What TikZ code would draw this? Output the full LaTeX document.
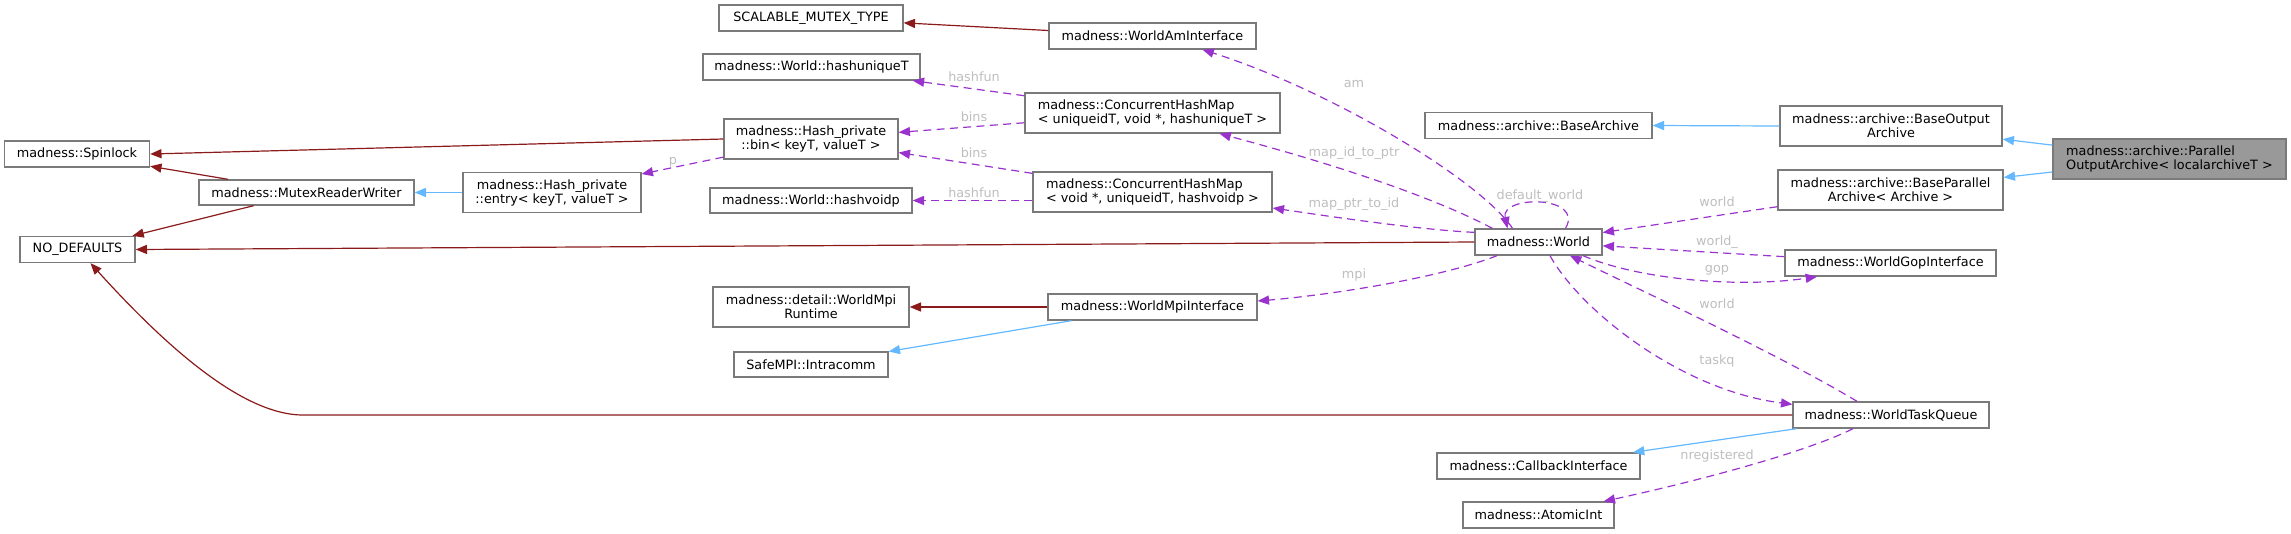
\documentclass[tikz,border=0pt]{standalone}
\usepackage{fontspec}
\setmainfont{DejaVu Sans}
\usetikzlibrary{arrows.meta,calc}
\definecolor{inhblue}{HTML}{63B8FF}
\definecolor{privred}{HTML}{8B1A1A}
\definecolor{usepurple}{HTML}{9A32CD}
\definecolor{boxgray}{HTML}{7A7A7A}
\definecolor{lblgray}{HTML}{BEBEBE}
\definecolor{focusgray}{HTML}{999999}
\begin{document}
\begin{tikzpicture}[x=0.75pt,y=-0.75pt,
  font=\fontsize{9.6pt}{10.5pt}\selectfont,
  box/.style={draw=boxgray, line width=1pt, fill=white, inner sep=2pt, align=center},
  sz/.style 2 args={minimum width=#1*0.75pt, minimum height=#2*0.75pt},
  tipstyle/.style={-{Triangle[length=8.5pt,width=6.8pt]}},
  redl/.style={draw=privred, line width=0.9pt, tipstyle},
  bluel/.style={draw=inhblue, line width=0.9pt, tipstyle},
  usel/.style={draw=usepurple, line width=0.9pt, dash pattern=on 6pt off 4pt, tipstyle},
  lbl/.style={text=lblgray, inner sep=0pt}
]
\useasboundingbox (0,0) rectangle (2291,533);

% nodes
\node[box, sz={145}{26}] (spin) at (77,154) {madness::Spinlock};
\node[box, sz={215}{25}] (mrw) at (306.5,192.5) {madness::MutexReaderWriter};
\node[box, sz={178}{40}] (entry) at (552,192.5) {madness::Hash\_private\\::entry< keyT, valueT >};
\node[box, sz={115}{26}] (nodef) at (77.5,249.5) {NO\_DEFAULTS};
\node[box, sz={184}{26}] (smt) at (811,18) {SCALABLE\_MUTEX\_TYPE};
\node[box, sz={207}{26}] (wai) at (1152.5,36) {madness::WorldAmInterface};
\node[box, sz={217}{26}] (hut) at (811.5,67) {madness::World::hashuniqueT};
\node[box, sz={255}{40}, align=left] (chm1) at (1152.5,113) {madness::ConcurrentHashMap\\< uniqueidT, void *, hashuniqueT >};
\node[box, sz={174}{40}] (bin) at (811,139) {madness::Hash\_private\\::bin< keyT, valueT >};
\node[box, sz={202}{25}] (hvp) at (811,200.5) {madness::World::hashvoidp};
\node[box, sz={239}{40}, align=left] (chm2) at (1152.5,192) {madness::ConcurrentHashMap\\< void *, uniqueidT, hashvoidp >};
\node[box, sz={127}{26}] (world) at (1538.5,242) {madness::World};
\node[box, sz={227}{26}] (ba) at (1538.5,125.5) {madness::archive::BaseArchive};
\node[box, sz={222}{40}] (boa) at (1891,126) {madness::archive::BaseOutput\\Archive};
\node[box, sz={233}{40}, fill=focusgray, align=left] (poa) at (2169.5,159) {madness::archive::Parallel\\OutputArchive< localarchiveT >};
\node[box, sz={225}{40}] (bpa) at (1890.5,190) {madness::archive::BaseParallel\\Archive< Archive >};
\node[box, sz={211}{26}] (wgi) at (1890.5,263) {madness::WorldGopInterface};
\node[box, sz={196}{40}] (wmr) at (811,307) {madness::detail::WorldMpi\\Runtime};
\node[box, sz={209}{26}] (wmi) at (1152.5,307) {madness::WorldMpiInterface};
\node[box, sz={154}{25}] (sic) at (811,364.5) {SafeMPI::Intracomm};
\node[box, sz={196}{26}] (wtq) at (1891,415) {madness::WorldTaskQueue};
\node[box, sz={203}{26}] (cbi) at (1538.5,466) {madness::CallbackInterface};
\node[box, sz={151}{26}] (ai) at (1538.5,515) {madness::AtomicInt};

% edges
\draw[redl] (bin.west) -- (spin.east);
\draw[redl] (mrw) -- (spin);
\draw[redl] (mrw) -- (nodef);
\draw[bluel] (entry.west) -- (mrw.east);
\draw[redl] (world.west) -- (nodef.east);
\coordinate (bend) at (303,415);
\draw[redl] (wtq.west) -- (bend) .. controls (240,415) and (160,340) .. ($(nodef.south)+(13,0)$);
\draw[redl] (wai) -- (smt);
\draw[usel] (chm1) -- (hut);
\draw[usel] (chm1) -- (bin);
\draw[usel] (chm2) -- (bin);
\draw[usel] (chm2.west |- hvp.east) -- (hvp.east);
\draw[usel] (bin) -- (entry);
\draw[usel] ($(world.north)+(-26,0)$) .. controls (1480,180) and (1330,90) .. ($(wai.south)+(50,0)$);
\draw[usel] ($(world.north west)+(18,0)$) .. controls (1420,190) and (1300,155) .. ($(chm1.south)+(67,0)$);
\draw[usel] ($(world.north west)+(0,4)$) .. controls (1420,230) and (1320,215) .. ($(chm2.east)+(0,16)$);
\draw[usel] ($(world.north)+(27,0)$) .. controls (1585,195) and (1500,195) .. ($(world.north)+(-31,0)$);
\draw[usel] (bpa) -- (world);
\draw[usel] (wgi) -- (world);
\draw[usel] ($(world.south)+(44.5,0)$) .. controls (1640,280) and (1740,288) .. ($(wgi.south)+(-73.5,0)$);
\draw[usel] ($(wtq.north)+(-34,0)$) .. controls (1780,355) and (1640,290) .. ($(world.south)+(31.5,0)$);
\draw[usel] ($(world.south)+(11.5,0)$) .. controls (1580,310) and (1680,390) .. ($(wtq.north west)+(0,3)$);
\draw[usel] ($(world.south)+(-41.5,0)$) .. controls (1440,278) and (1330,295) .. ($(wmi.east)+(0,-6)$);
\draw[redl] (wmi.west) -- (wmr.east);
\draw[bluel] (wmi) -- (sic);
\draw[bluel] (wtq) -- (cbi);
\draw[usel] ($(wtq.south)+(-38,0)$) .. controls (1800,455) and (1680,485) .. ($(ai.north east)+(-11,0)$);
\draw[bluel] (boa.west) -- (ba.east);
\draw[bluel] (poa) -- (boa);
\draw[bluel] (poa) -- (bpa);

% labels
\node[lbl] (lhf1) at (974,77) {hashfun};
\node[lbl] (lb1) at (974,117) {bins};
\node[lbl] (lb2) at (974,153) {bins};
\node[lbl] (lhf2) at (974,193) {hashfun};
\node[lbl] (lp) at (673,162) {p};
\node[lbl] (lam) at (1354,84) {am};
\node[lbl] (lmid) at (1354,153) {map\_id\_to\_ptr};
\node[lbl] (lmpd) at (1354,204) {map\_ptr\_to\_id};
\node[lbl] (ldw) at (1540,196) {default\_world};
\node[lbl] (lw1) at (1717,202) {world};
\node[lbl] (lw2) at (1717,242) {world\_};
\node[lbl] (lgop) at (1717,270) {gop};
\node[lbl] (lw3) at (1717,304) {world};
\node[lbl] (ltq) at (1717,361) {taskq};
\node[lbl] (lmpi) at (1354,275) {mpi};
\node[lbl] (lnr) at (1717,456) {nregistered};
\end{tikzpicture}
\end{document}
